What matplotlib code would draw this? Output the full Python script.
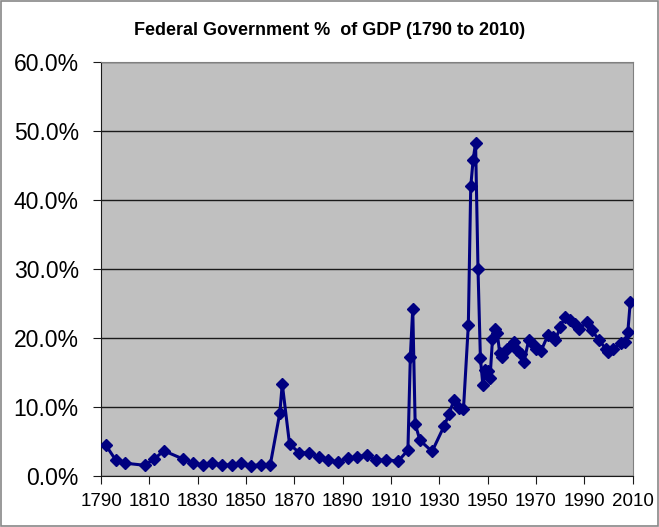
import matplotlib
matplotlib.use("Agg")
import matplotlib.pyplot as plt
from matplotlib.ticker import FuncFormatter, MultipleLocator
from matplotlib.patches import Rectangle

# values (percent of GDP)
years = [1792, 1796, 1800, 1808, 1812, 1816, 1824, 1828, 1832, 1836,
         1840, 1844, 1848, 1852, 1856, 1860, 1864, 1865, 1868, 1872,
         1876, 1880, 1884, 1888, 1892, 1896, 1900, 1904, 1908, 1913,
         1917, 1918, 1919, 1920, 1922, 1927, 1932, 1934, 1936, 1938,
         1940, 1942, 1943, 1944, 1945, 1946, 1947, 1948, 1949, 1950,
         1951, 1952, 1953, 1954, 1955, 1956, 1958, 1960, 1961, 1962,
         1964, 1965, 1967, 1969, 1970, 1972, 1975, 1977, 1978, 1980,
         1982, 1984, 1986, 1988, 1991, 1993, 1996, 1999, 2000, 2002,
         2005, 2007, 2008, 2009]
pct = [4.5, 2.4, 1.9, 1.6, 2.5, 3.7, 2.5, 2.0, 1.6, 1.9,
       1.7, 1.6, 1.9, 1.5, 1.7, 1.6, 9.2, 13.4, 4.7, 3.4,
       3.4, 2.8, 2.3, 2.1, 2.6, 2.8, 3.1, 2.3, 2.4, 2.2,
       3.8, 17.3, 24.3, 7.6, 5.2, 3.6, 7.3, 9.0, 11.0, 9.9,
       9.8, 21.9, 42.0, 45.9, 48.3, 30.1, 17.1, 13.3, 15.4, 15.2,
       14.3, 19.9, 21.3, 20.7, 17.8, 17.3, 18.5, 19.0, 19.4, 18.3,
       17.7, 16.5, 19.8, 19.0, 18.4, 18.1, 20.5, 20.2, 19.7, 21.6,
       23.1, 22.6, 22.0, 21.4, 22.3, 21.2, 19.8, 18.4, 18.0, 18.5,
       19.3, 19.5, 20.9, 25.2]
xticks = list(range(1790, 2011, 20))

plt.rcParams['font.family'] = ['Liberation Sans', 'DejaVu Sans']

fig = plt.figure(figsize=(6.59, 5.27), dpi=100)
fig.patches.append(Rectangle((0.002, 0.002), 0.996, 0.996, transform=fig.transFigure,
                             fill=False, edgecolor='#888888', linewidth=1.2))
ax = fig.add_axes([0.1533, 0.0962, 0.8067, 0.7856])
ax.set_facecolor('#c0c0c0')

ax.plot(years, pct, color='#000080', linewidth=2.2, marker='D', markersize=6.5,
        markerfacecolor='#000080', markeredgecolor='#000080', zorder=3)

ax.set_xlim(1790, 2010)
ax.set_ylim(0, 60)
ax.set_xticks(xticks)
ax.yaxis.set_major_locator(MultipleLocator(10))
ax.yaxis.set_major_formatter(FuncFormatter(lambda v, p: '%.1f%%' % v))
ax.grid(axis='y', color='#1a1a1a', linewidth=1)
ax.set_axisbelow(True)

for s in ['top', 'right']:
    ax.spines[s].set_color('#808080')
for s in ['left', 'bottom']:
    ax.spines[s].set_color('#1a1a1a')
ax.tick_params(axis='y', direction='out', length=6, pad=10, labelsize=16.5, color='#1a1a1a')
ax.tick_params(axis='x', direction='out', length=6, pad=6, labelsize=13.5, color='#1a1a1a')

fig.text(0.5, 0.943, 'Federal Government %  of GDP (1790 to 2010)', ha='center', va='center',
         fontsize=13, fontweight='bold')

fig.savefig('out.png', dpi=100)
